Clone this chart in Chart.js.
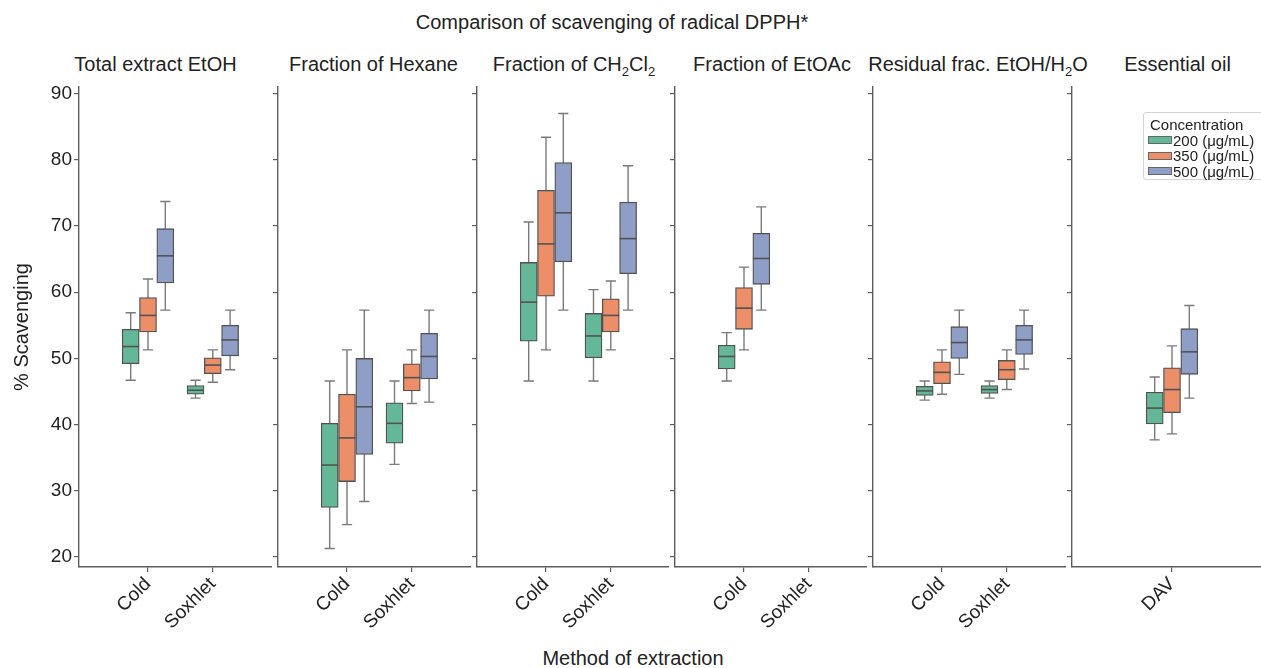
<!DOCTYPE html>
<html>
<head>
<meta charset="utf-8">
<title>Comparison of scavenging of radical DPPH*</title>
<script src="https://cdn.jsdelivr.net/npm/chart.js@4.4.1/dist/chart.umd.min.js"></script>
<style>
  html, body { margin: 0; padding: 0; background: #fff; }
  body {
    width: 1261px; height: 668px; position: relative; overflow: hidden;
    font-family: "Liberation Sans", Arial, sans-serif; color: #222;
  }
  .label {
    position: absolute; white-space: nowrap; font-size: 20px; line-height: 24px;
    transform: translate(-50%, -50%);
  }
  .label sub { font-size: 13px; line-height: 0; vertical-align: -5px; }
  canvas.panel { position: absolute; }
  #legend {
    position: absolute; left: 1143px; top: 112px; width: 130px; height: 68px;
    border: 1px solid #d4d4d4; border-radius: 3px; background: #fff;
    font-size: 15px; line-height: 15.5px; box-sizing: border-box; padding-top: 4px;
  }
  #legend .ttl { padding-left: 6px; }
  #legend .row { display: flex; align-items: center; }
  #legend .sw { width: 22px; height: 6px; margin-left: 4px; margin-right: 1px; border: 1px solid #666; }
</style>
</head>
<body>

<div class="label" style="left:612px; top:22px;">Comparison of scavenging of radical DPPH*</div>
<div class="label" style="left:633px; top:658px;">Method of extraction</div>
<div id="titles"></div>
<div id="figure"></div>
<div id="legend"></div>

<script>
/* ============================================================
   DPPH scavenging — faceted box plots
   ============================================================ */

// ── Data ──────────────────────────────────────────────────────
// every box: [lower whisker, Q1, median, Q3, upper whisker]
// rows = concentration, columns = method of extraction
const CONCENTRATIONS = ['200 (μg/mL)', '350 (μg/mL)', '500 (μg/mL)'];
const PANEL_TITLES = [
  'Total extract EtOH',
  'Fraction of Hexane',
  'Fraction of CH<sub>2</sub>Cl<sub>2</sub>',
  'Fraction of EtOAc',
  'Residual frac. EtOH/H<sub>2</sub>O',
  'Essential oil'
];
const PANEL_METHODS = [
  ['Cold', 'Soxhlet'],
  ['Cold', 'Soxhlet'],
  ['Cold', 'Soxhlet'],
  ['Cold', 'Soxhlet'],
  ['Cold', 'Soxhlet'],
  ['DAV']
];
const Y_TICKS = [20, 30, 40, 50, 60, 70, 80, 90];

const totalExtract = [
  [[46.7, 49.2, 51.8, 54.4, 56.9], [44.0, 44.6, 45.2, 45.9, 46.7]],
  [[51.3, 54.0, 56.5, 59.2, 62.0], [46.4, 47.7, 49.0, 50.1, 51.3]],
  [[57.3, 61.4, 65.5, 69.6, 73.7], [48.3, 50.4, 52.8, 55.0, 57.3]]
];
const hexane = [
  [[21.3, 27.5, 33.9, 40.2, 46.6], [34.0, 37.2, 40.2, 43.3, 46.6]],
  [[24.9, 31.4, 38.0, 44.6, 51.3], [43.2, 45.1, 47.1, 49.2, 51.3]],
  [[28.4, 35.5, 42.7, 50.0, 57.3], [43.4, 46.9, 50.3, 53.8, 57.3]]
];
const ch2cl2 = [
  [[46.6, 52.6, 58.5, 64.5, 70.6], [46.6, 50.1, 53.4, 56.8, 60.4]],
  [[51.3, 59.4, 67.3, 75.4, 83.4], [51.3, 54.0, 56.5, 59.0, 61.7]],
  [[57.3, 64.6, 72.0, 79.6, 87.0], [57.3, 62.8, 68.1, 73.6, 79.1]]
];
const etoac = [
  [[46.6, 48.4, 50.3, 52.0, 53.9], null],
  [[51.3, 54.4, 57.6, 60.7, 63.8], null],
  [[57.3, 61.2, 65.1, 68.9, 72.9], null]
];
const residual = [
  [[43.7, 44.4, 45.1, 45.8, 46.6], [44.0, 44.7, 45.3, 45.9, 46.6]],
  [[44.6, 46.2, 47.9, 49.5, 51.3], [45.3, 46.8, 48.3, 49.7, 51.3]],
  [[47.6, 50.0, 52.4, 54.8, 57.3], [48.4, 50.6, 52.8, 55.0, 57.3]]
];
const essentialOil = [
  [[37.7, 40.1, 42.5, 44.9, 47.2]],
  [[38.6, 41.8, 45.3, 48.6, 51.9]],
  [[44.0, 47.6, 51.0, 54.5, 58.0]]
];
const PANEL_DATA = [totalExtract, hexane, ch2cl2, etoac, residual, essentialOil];

// ── Look ──────────────────────────────────────────────────────
const COLORS = ['#64b898', '#ec8e68', '#8e9ec7'];
const EDGE = '#525252';
const WHISKER = '#7a7a7a';
const AXIS = '#5e5e5e';
const TEXT = '#222';
const FONT = '"Liberation Sans", Arial, sans-serif';

// ── Layout (page pixels) ─────────────────────────────────────
const PANEL_LEFT = [79, 278, 477, 675, 873, 1072];
const PANEL_GAP = 6;
const FIG_RIGHT = 1261;
const CANVAS_TOP = 77, CANVAS_H = 591;
const PLOT_TOP = 87, PLOT_BOTTOM = 567;
const PX_PER_UNIT = 64.8;
const FIRST_CAT_PX = [69, 69, 69, 69, 69, 100];
const TITLE_X = [155.5, 373.5, 574, 772, 978, 1177.5];
const HUE_OFFSET = [-0.267, 0, 0.267];
const BOX_PX = 17;

// ── Whiskers, caps and medians ───────────────────────────────
const boxWhiskers = {
  id: 'boxWhiskers',
  beforeDatasetsDraw(chart) {
    const { ctx, scales: { y } } = chart;
    ctx.save();
    ctx.strokeStyle = WHISKER;
    ctx.lineWidth = 1.4;
    chart.data.datasets.forEach((ds, di) => {
      chart.getDatasetMeta(di).data.forEach((bar, i) => {
        const b = ds.data[i].box;
        const cap = bar.width * 0.3;
        const yLo = y.getPixelForValue(b[0]);
        const yHi = y.getPixelForValue(b[4]);
        ctx.beginPath();
        ctx.moveTo(bar.x, yLo); ctx.lineTo(bar.x, yHi);
        ctx.moveTo(bar.x - cap, yLo); ctx.lineTo(bar.x + cap, yLo);
        ctx.moveTo(bar.x - cap, yHi); ctx.lineTo(bar.x + cap, yHi);
        ctx.stroke();
      });
    });
    ctx.restore();
  },
  afterDatasetsDraw(chart) {
    const { ctx, scales: { y } } = chart;
    ctx.save();
    ctx.strokeStyle = EDGE;
    ctx.lineWidth = 1.6;
    chart.data.datasets.forEach((ds, di) => {
      chart.getDatasetMeta(di).data.forEach((bar, i) => {
        const yMed = y.getPixelForValue(ds.data[i].box[2]);
        ctx.beginPath();
        ctx.moveTo(bar.x - bar.width / 2, yMed);
        ctx.lineTo(bar.x + bar.width / 2, yMed);
        ctx.stroke();
      });
    });
    ctx.restore();
  }
};

// ── Panels ────────────────────────────────────────────────────
function renderPanel(k) {
  const methods = PANEL_METHODS[k];
  const boxes = PANEL_DATA[k];
  const first = k === 0;
  const yW = first ? 79 : 10;
  const right = k < 5 ? PANEL_LEFT[k + 1] - PANEL_GAP : FIG_RIGHT;
  const plotW = right - PANEL_LEFT[k];
  const xMin = -FIRST_CAT_PX[k] / PX_PER_UNIT;
  const xMax = xMin + plotW / PX_PER_UNIT;

  const canvas = document.createElement('canvas');
  canvas.className = 'panel';
  canvas.width = yW + plotW;
  canvas.height = CANVAS_H;
  canvas.style.left = (PANEL_LEFT[k] - yW) + 'px';
  canvas.style.top = CANVAS_TOP + 'px';
  document.getElementById('figure').appendChild(canvas);

  new Chart(canvas, {
    type: 'bar',
    data: {
      datasets: CONCENTRATIONS.map((c, i) => ({
        label: c,
        data: methods
          .map((m, j) => boxes[i][j] ? { x: j + HUE_OFFSET[i], y: [boxes[i][j][1], boxes[i][j][3]], box: boxes[i][j] } : null)
          .filter(Boolean),
        backgroundColor: COLORS[i],
        borderColor: EDGE,
        borderWidth: 1.3,
        borderSkipped: false,
        barThickness: BOX_PX,
        grouped: false
      }))
    },
    options: {
      responsive: false,
      devicePixelRatio: 1,
      animation: false,
      layout: { padding: { top: PLOT_TOP - CANVAS_TOP, left: 0, right: 0, bottom: 0 } },
      plugins: { legend: { display: false }, tooltip: { enabled: false } },
      scales: {
        x: {
          type: 'linear',
          offset: false,
          min: xMin,
          max: xMax,
          afterBuildTicks: axis => { axis.ticks = methods.map((m, j) => ({ value: j })); },
          afterFit: axis => {
            axis.height = CANVAS_H - (PLOT_BOTTOM - CANVAS_TOP);
            axis.paddingLeft = 0; axis.paddingRight = 0;
          },
          grid: { drawOnChartArea: false, offset: false, tickLength: 5, color: AXIS, lineWidth: 1.2 },
          border: { color: AXIS, width: 1.4 },
          ticks: {
            callback: v => methods[v],
            autoSkip: false, minRotation: 45, maxRotation: 45, padding: 1,
            color: TEXT, font: { family: FONT, size: 19 }
          }
        },
        y: {
          min: 18.5,
          max: 91,
          afterBuildTicks: axis => { axis.ticks = Y_TICKS.map(v => ({ value: v })); },
          afterFit: axis => {
            axis.width = yW;
            axis.paddingTop = 0; axis.paddingBottom = 0;
          },
          grid: { drawOnChartArea: false, tickLength: 5, color: AXIS, lineWidth: 1.2 },
          border: { color: AXIS, width: 1.4 },
          ticks: {
            callback: v => first ? v : '',
            padding: 2, color: TEXT, font: { family: FONT, size: 19 }
          },
          title: {
            display: first, text: '% Scavenging', color: TEXT,
            font: { family: FONT, size: 20 }, padding: { top: 10, bottom: 0 }
          }
        }
      }
    },
    plugins: [boxWhiskers]
  });
}

// ── Titles & legend ───────────────────────────────────────────
function renderTitles() {
  document.getElementById('titles').innerHTML = PANEL_TITLES.map((t, k) =>
    `<div class="label" style="left:${TITLE_X[k]}px; top:63.5px;">${t}</div>`
  ).join('');
}

function renderLegend() {
  document.getElementById('legend').innerHTML =
    '<div class="ttl">Concentration</div>' +
    CONCENTRATIONS.map((c, i) => `
      <div class="row"><span class="sw" style="background:${COLORS[i]}"></span><span>${c}</span></div>
    `).join('');
}

renderTitles();
PANEL_METHODS.forEach((m, k) => renderPanel(k));
renderLegend();
</script>
</body>
</html>
